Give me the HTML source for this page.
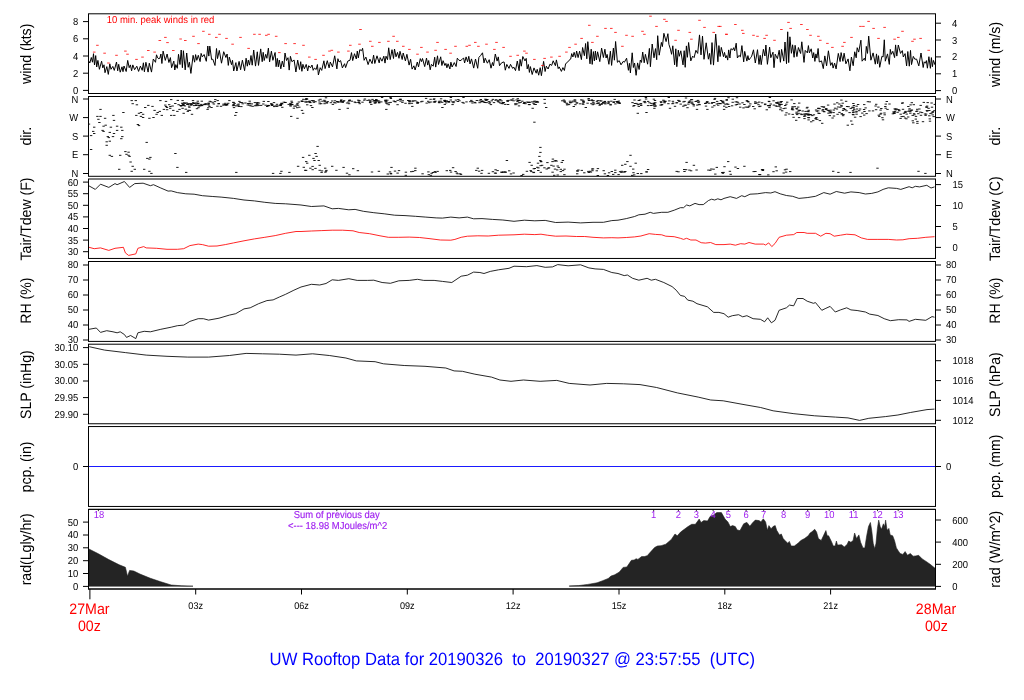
<!DOCTYPE html>
<html lang="en"><head><meta charset="utf-8"><title>UW Rooftop Data</title>
<style>html,body{margin:0;padding:0;background:#fff}body{width:1024px;height:700px;overflow:hidden}svg{display:block}</style>
</head><body>
<svg width="1024" height="700" viewBox="0 0 1024 700" text-rendering="geometricPrecision" font-family='"Liberation Sans", Arial, Helvetica, sans-serif'>
<rect width="1024" height="700" fill="#fff"/>
<defs><clipPath id="c0"><rect x="88.5" y="13.8" width="847.0" height="79.7"/></clipPath><clipPath id="c1"><rect x="88.5" y="96.5" width="847.0" height="79.80000000000001"/></clipPath><clipPath id="c2"><rect x="88.5" y="179.0" width="847.0" height="79.44999999999999"/></clipPath><clipPath id="c3"><rect x="88.5" y="261.5" width="847.0" height="79.89999999999998"/></clipPath><clipPath id="c4"><rect x="88.5" y="344.2" width="847.0" height="79.55000000000001"/></clipPath><clipPath id="c5"><rect x="88.5" y="426.55" width="847.0" height="79.89999999999998"/></clipPath><clipPath id="c6"><rect x="88.5" y="509.35" width="847.0" height="79.64999999999998"/></clipPath></defs>
<path d="M88.8 61.1 L89.8 63 L91.3 57.5 L92.5 62.2 L93.5 53.7 L94.5 65 L95.7 55.6 L96.7 67 L97.9 60.4 L99.4 69.3 L101.6 61.2 L102.8 67.9 L104 64.8 L105 72.7 L106.8 66.6 L108.3 74.4 L109.8 63.8 L111 69.3 L112.8 66.4 L114.3 70.4 L116.5 62 L117.7 70.8 L118.7 64.3 L120.2 72.2 L122 66.8 L123 71.7 L124 66 L126.2 71.5 L127.7 60.4 L129.2 67.7 L130.4 64.9 L131.6 70.8 L132.8 64.9 L134.6 69.7 L136.8 66.2 L138.6 71.4 L140.4 66.1 L142.2 70.3 L143.4 62.8 L144.4 71.8 L145.9 62.3 L148.1 72.1 L149.3 63.2 L151.5 72.1 L153.3 59 L155.5 62.3 L156.5 54.8 L157.7 57.9 L158.9 58.8 L159.9 58.1 L160.9 54 L161.9 63.5 L163.1 51.1 L165.3 60.4 L167.1 54 L168.9 62.5 L170.4 57.6 L171.6 67.7 L173.8 61.1 L174.8 70 L175.8 64.6 L177.3 68.3 L178.5 54.3 L180 64.5 L181.2 50 L182.4 67.7 L183.4 50.7 L185.2 69.9 L186.7 53 L188.2 67.3 L189.4 62.2 L190.9 73.4 L193.1 55.3 L194.6 62.2 L195.6 54.6 L196.8 60.3 L198.3 55.3 L200.1 61.6 L201.1 53.4 L202.3 56.9 L204.1 54.5 L206.3 61.3 L207.8 46 L208.8 56.1 L209.8 46.1 L211.6 59.6 L212.8 59.2 L215 65.5 L216.5 48.5 L217.5 58.6 L219.3 50.4 L221.5 63.2 L223.7 51.7 L225.9 57.5 L227.1 54 L228.3 65.4 L229.3 57.1 L231.5 64.7 L232.5 60.3 L233.7 71 L235.9 62.6 L236.9 71 L239.1 61.4 L240.6 69.8 L242.4 60.2 L244.6 70.7 L246.1 58.2 L247.3 66.2 L248.3 60.1 L249.5 65.1 L251 55.5 L252.2 65.2 L253.7 50 L255.5 66.1 L257.3 51.8 L258.5 65.4 L260.7 48.9 L262.2 61.7 L263.2 52.3 L264.2 60.5 L265.7 54.3 L266.9 58.3 L268.4 48.1 L269.6 61.9 L271.4 51.2 L272.9 60.3 L275.1 52.5 L276.1 66.7 L277.3 58.4 L278.3 66.9 L279.3 60 L280.8 68.8 L282.3 61.1 L283.8 67 L285 53 L286.5 60.5 L288 57.7 L289.2 70.1 L290.4 56.3 L291.9 61.7 L294.1 60 L295.9 72 L297.7 60.1 L299.5 69.5 L300.7 61.7 L301.9 71.3 L302.9 64.3 L304.4 68.8 L306.2 64.4 L307.7 70.9 L308.7 65.7 L310.5 67.8 L312 65 L313.2 70.3 L314.4 68.1 L316.2 69.5 L317.4 64.5 L318.4 75 L320.2 67.7 L321.7 70.4 L323.9 60.8 L325.1 68.6 L327.3 60.7 L329.1 67.9 L330.3 62 L332.5 66.9 L334.7 55.8 L336.9 68.9 L337.9 58.7 L339.1 62 L340.6 60.6 L342.4 67.9 L344.6 63.7 L345.6 67.6 L347.8 61.1 L350 60.2 L351.5 52.6 L352.7 60.6 L354.5 53.7 L356.3 59 L357.3 51.1 L358.3 57.9 L359.8 49.7 L361.6 50.7 L362.6 48.3 L364.1 60.3 L365.9 57.1 L368.1 64.6 L369.9 59.1 L372.1 63.6 L373.6 55.1 L374.8 63.5 L377 55.8 L379.2 62.9 L380.2 57.6 L382 61.2 L383.8 56.2 L385 63.1 L386 56.2 L387.5 59.7 L388.7 47.8 L390.2 59.6 L392 49.7 L393.5 58.5 L394.5 49 L396 56.8 L397.5 52.4 L399 58.3 L400 51.3 L402.2 59.5 L403.2 53 L405.4 60.9 L406.9 54.3 L409.1 65.1 L410.6 59.3 L412.1 69.1 L413.9 65.8 L415.1 70 L417.3 62 L418.5 66.9 L420.3 58.6 L421.5 61.6 L422.5 58.5 L424.7 66.6 L426.5 58 L427.7 65.1 L428.7 60.5 L430.2 69.8 L431.4 64.3 L433.2 66.2 L434.7 57.2 L435.7 67.1 L437.5 55.8 L438.5 64.5 L440.7 56.8 L441.9 65.5 L443.1 60.7 L444.9 65.5 L445.9 63.4 L446.9 67.8 L448.1 63.8 L449.9 69 L450.9 62.2 L452.1 67 L454.3 62.6 L456.1 66.5 L457.3 58.2 L458.5 59.7 L460 60.8 L461.8 59.7 L463.6 57.9 L464.6 63 L466.1 56.9 L467.6 61.8 L468.8 56.3 L470 63.9 L471.5 58.9 L473.7 68.1 L475.5 59 L477.7 68.3 L478.9 57.4 L480.7 55.4 L482.5 52.8 L484 62.9 L485.2 58.2 L487.4 63.2 L489.2 59.7 L491 68.2 L492.5 62.5 L493.5 65.9 L495.3 54 L497.1 61.1 L498.3 56.9 L499.5 65.7 L501.3 63.1 L503.1 62.1 L504.1 62 L505.3 70.2 L506.8 64.4 L509 68.4 L510.5 64.3 L512.7 68.4 L513.7 67 L515.5 70.6 L517.3 61 L519.1 70.7 L520.1 59.4 L521.3 66.2 L522.8 56.5 L525 60.9 L526.2 58.4 L527.2 68.9 L528.4 64.5 L529.4 72.4 L530.4 66.6 L532.2 74.5 L534 67.9 L536.2 73.2 L537.2 69.3 L538.7 75.2 L540.2 67.7 L541.4 75.7 L543.6 61.4 L545.1 71.5 L546.3 66.2 L548.1 69 L549.9 64.2 L551.7 65.4 L553.2 60.8 L555.4 65.7 L556.4 59.9 L558.2 68.6 L559.2 66.9 L561.4 71.4 L562.9 67.6 L564.4 70.5 L565.6 63.7 L567.4 62.4 L568.9 60.4 L570.7 59.1 L571.7 53.6 L572.9 57 L574.1 52.3 L575.6 57.5 L576.6 51 L578.1 57.6 L579.6 51.2 L581.4 59.6 L582.6 47.5 L584.4 55.7 L585.6 43.5 L586.8 58.8 L587.8 41.7 L590 63.8 L591.2 49.2 L592.2 64.4 L593.4 51.6 L594.4 60.9 L595.4 51 L596.4 60 L597.6 51.8 L599.8 61.6 L601.6 48.1 L603.4 57.5 L604.9 49.2 L606.1 58 L607.1 54.4 L608.9 64.3 L610.4 51.2 L611.6 65.4 L613.4 48.1 L614.4 60.2 L615.6 41.5 L617.4 62.3 L619.2 60.6 L621 64.8 L623.2 61.4 L624.4 62.2 L626.6 58.2 L628.4 70.3 L629.4 63.3 L630.4 72.9 L632.2 52.8 L633.4 67.5 L634.6 63 L636.1 75.3 L637.6 62.9 L639.1 69.5 L640.3 60 L641.5 62.4 L642.7 52 L644.2 62.8 L645.4 54.3 L647.6 64.2 L649.4 48.4 L650.4 66.7 L652.2 44 L654 57.8 L655.5 48.6 L656.7 59.7 L657.7 35.7 L659.2 55.2 L661.4 42.4 L662.4 46.6 L663.9 33.3 L666.1 41.6 L667.9 33.7 L668.9 44.3 L670.4 49.1 L671.6 54.3 L672.8 45.8 L674.6 64.8 L675.8 48.8 L676.8 66.7 L678.3 50.2 L679.3 56.3 L680.8 50.8 L683 64.9 L684.2 50.7 L685.2 67.3 L686.4 45.9 L687.4 57.3 L688.6 42.5 L690.8 60.9 L692.6 56.1 L694.1 57.6 L695.9 50.3 L697.7 53.4 L699.5 34.9 L701 54.9 L702.5 36.1 L704 59.3 L706.2 42.8 L708.4 59.2 L709.6 53.4 L710.8 64.4 L712 42.6 L713.5 65.1 L715.7 34.1 L717.9 61.8 L718.9 45.6 L720.1 56.5 L721.3 47.4 L723.5 56.7 L724.5 52.4 L725.7 58 L726.7 55.6 L727.7 60.1 L728.7 49.9 L729.9 58 L730.9 48.7 L732.7 49.9 L733.7 47.7 L734.7 50.9 L736.2 43.2 L737.4 58 L738.9 55.4 L740.4 56.8 L741.9 45.6 L743.7 61.9 L744.7 51.4 L746.9 61.1 L747.9 55.6 L748.9 60 L750.7 57.6 L751.7 56.2 L753.5 49.8 L755.3 63 L757.5 49.7 L759 64.4 L760.2 55.3 L761.2 64.7 L763.4 49.3 L764.9 56 L765.9 45 L767.4 64.3 L769.6 47.1 L770.8 57.7 L773 52.2 L774 67.7 L775.2 54.2 L777.4 58.6 L779.2 50.2 L780.4 62.3 L781.6 49.4 L783.8 61.1 L785 42 L786.5 63.7 L787.7 31.8 L788.7 62.6 L789.9 36.8 L791.4 53.3 L792.6 44.8 L794.1 57.3 L795.1 45.3 L796.9 56.6 L798.4 47.5 L800.6 53.5 L801.8 41.8 L804 62.4 L805.2 50.4 L807.4 52.9 L808.4 45.6 L809.4 52.8 L811.2 48.8 L812.7 58 L813.7 52.6 L814.9 61.4 L815.9 53.9 L816.9 58.1 L818.1 48.5 L819.3 62 L821.5 60.9 L823.3 68.6 L824.8 55.9 L826.6 65.8 L828.4 50.8 L830.6 65.4 L832.1 62.6 L833.1 68.1 L834.6 63.1 L836.1 68.9 L838.3 53.4 L840.1 61.6 L841.1 52.6 L842.9 61.3 L844.1 53.2 L845.9 63.8 L848.1 58.9 L849.9 70.8 L851.4 57 L853.2 65.7 L854.7 51.8 L856.2 57.8 L857.2 47.7 L858.7 52.1 L860.9 40.2 L862.1 61.2 L864.3 58.2 L865.3 60.6 L866.3 46.4 L867.5 53.4 L868.7 36.1 L870.9 60.2 L873.1 52.9 L875.3 64.2 L876.5 53.9 L877.5 63.7 L878.5 55.7 L879.7 67.3 L881.9 56.3 L883.1 57 L884.3 39.8 L885.3 61.2 L887.5 53.9 L889.3 64.4 L890.3 49.4 L891.3 54.3 L892.8 51.3 L894.6 57.6 L895.6 44.9 L896.8 56.1 L898.3 45 L900.5 53.4 L902.3 50.6 L903.3 57 L905.1 53.6 L906.6 66 L907.8 51.5 L909.3 66.2 L910.5 50.4 L911.5 64.6 L913.3 56.4 L914.8 59.2 L916.6 59.1 L918.8 65.9 L921 53 L923.2 67.5 L924.2 61.8 L925.4 63.2 L926.4 60.6 L927.4 68.2 L928.9 56.7 L930.4 68.3 L931.4 57.6 L932.4 66.7 L933.4 60.4 L935.2 65.1" stroke="#000" stroke-width="1" fill="none" stroke-linejoin="miter" stroke-miterlimit="6" clip-path="url(#c0)"/>
<path d="M96.1 45.3h2.6M92.9 52.1h2.6M103.3 53.2h2.6M107.1 63h2.6M115.2 55.3h2.6M124.1 51.1h2.6M126.2 54.2h2.6M135.2 59.4h2.6M141.2 57.1h2.6M147 50.5h2.6M153.3 52.1h2.6M158.5 40.5h2.6M164.1 37.4h2.6M166.2 42.6h2.6M172 50.5h2.6M179.3 39h2.6M184 40.5h2.6M192.2 36.3h2.6M197.2 43.6h2.6M202.1 31.3h2.6M208 34.3h2.6M215 37.4h2.6M218.2 34.3h2.6M225.2 38.4h2.6M231.3 44.2h2.6M239.2 37.4h2.6M247.3 48.4h2.6M253.1 34.3h2.6M258.3 34.3h2.6M265 35.3h2.6M267.3 34.3h2.6M274.9 36.3h2.6M278.1 52.6h2.6M284.3 43.6h2.6M293.3 43.6h2.6M295.3 53.6h2.6M302.2 45.3h2.6M308 57.1h2.6M314.3 59.4h2.6M322.2 55.3h2.6M328.2 51.1h2.6M330.5 50.3h2.6M337.1 52.1h2.6M347.1 51.1h2.6M349 45.3h2.6M358.2 44.2h2.6M359.2 29.5h2.6M369 41.3h2.6M371 46.3h2.6M378.1 42.4h2.6M387.1 41.3h2.6M392.3 36.3h2.6M396 41.3h2.6M402 46.3h2.6M408.1 49.4h2.6M416.2 54.2h2.6M420.1 47.4h2.6M426.2 52.1h2.6M434.3 50.3h2.6M436.2 42.4h2.6M444.3 49.4h2.6M449.3 53.2h2.6M454.2 46.3h2.6M465.5 46.3h2.6M468.2 45.3h2.6M474 42.4h2.6M477.1 46.3h2.6M485.2 44.2h2.6M493.1 49.4h2.6M495.2 42.4h2.6M502.3 47.4h2.6M509.2 56.3h2.6M516.4 55.3h2.6M523.1 51.1h2.6M525.2 53.2h2.6M533.1 59.4h2.6M541.2 65.5h2.6M543.3 58.4h2.6M550.1 57.1h2.6M558.3 56.3h2.6M565.1 52.1h2.6M568.2 47.4h2.6M574.3 44.2h2.6M580.3 38.4h2.6M588 25.3h2.6M591.1 42.4h2.6M596.1 36.3h2.6M604.2 28.4h2.6M610 28.4h2.6M614.2 32.4h2.6M621.1 46.3h2.6M625.2 35.3h2.6M631.3 36.3h2.6M641.2 31.3h2.6M643.1 34.3h2.6M649.2 16.2h2.6M655.2 26.4h2.6M663.1 19.3h2.6M665.2 21.4h2.6M674.3 40.3h2.6M677.2 30.3h2.6M688.5 32.4h2.6M690.1 39.2h2.6M698.2 20.3h2.6M703.2 27.4h2.6M712.4 32.4h2.6M717.4 26.4h2.6M719 26.4h2.6M725.1 34.3h2.6M725.2 34.3h2.6M734.1 24.5h2.6M741 30.3h2.6M742 33.4h2.6M752.2 35.3h2.6M756.2 36.3h2.6M763.3 38.4h2.6M765.3 35.3h2.6M773.2 40.3h2.6M780.1 29.5h2.6M787.2 22.4h2.6M789.3 28.4h2.6M800.1 24.5h2.6M806.1 29.5h2.6M809.2 35.3h2.6M817.1 36.3h2.6M819 40.3h2.6M826.1 43.4h2.6M831.1 47.4h2.6M841.3 46.3h2.6M843.1 42.4h2.6M850.2 37.4h2.6M859.2 26.4h2.6M862.1 26.4h2.6M867.3 21.4h2.6M872.3 28.4h2.6M877.2 38.4h2.6M883.3 27.4h2.6M893.3 39.2h2.6M897 37.4h2.6M901.2 31.3h2.6M911.2 41.3h2.6M913.2 39.2h2.6M919.3 38.4h2.6M927.4 50.3h2.6" stroke="#f00" stroke-width="0.8" fill="none"/>
<text transform="translate(106.7 22.8) scale(0.935 1)" font-size="10.17" fill="#f00">10 min. peak winds in red</text>
<path d="M83.0 90.4H88.5M83.0 73.2H88.5M83.0 56H88.5M83.0 38.8H88.5M83.0 21.6H88.5" stroke="#000" stroke-width="1" fill="none"/>
<text transform="translate(78.2 93.9) scale(0.935 1)" font-size="10.11" text-anchor="end">0</text>
<text transform="translate(78.2 76.7) scale(0.935 1)" font-size="10.11" text-anchor="end">2</text>
<text transform="translate(78.2 59.5) scale(0.935 1)" font-size="10.11" text-anchor="end">4</text>
<text transform="translate(78.2 42.3) scale(0.935 1)" font-size="10.11" text-anchor="end">6</text>
<text transform="translate(78.2 25.1) scale(0.935 1)" font-size="10.11" text-anchor="end">8</text>
<path d="M935.5 90.6h5.5M935.5 73.8h5.5M935.5 56.9h5.5M935.5 40h5.5M935.5 23.2h5.5" stroke="#000" stroke-width="1" fill="none"/>
<text transform="translate(952 94) scale(0.935 1)" font-size="10.11">0</text>
<text transform="translate(952 77.2) scale(0.935 1)" font-size="10.11">1</text>
<text transform="translate(952 60.3) scale(0.935 1)" font-size="10.11">2</text>
<text transform="translate(952 43.5) scale(0.935 1)" font-size="10.11">3</text>
<text transform="translate(952 26.6) scale(0.935 1)" font-size="10.11">4</text>
<text transform="translate(31 53.8) rotate(-90) scale(0.935 1)" font-size="15.09" text-anchor="middle">wind (kts)</text>
<text transform="translate(1000 54.4) rotate(-90) scale(0.935 1)" font-size="15.09" text-anchor="middle">wind (m/s)</text>
<path d="M99.3 109.4h2.4M96.2 116.4h2.4M99.3 116.4h2.4M112.2 115.4h2.4M97.2 119.3h2.4M103.9 118.3h2.4M112.8 120.4h2.4M98.2 122.5h2.4M87.8 124.1h2.4M93 127.2h2.4M102.4 126.2h2.4M104.5 125.2h2.4M109.7 127.2h2.4M115.9 126.2h2.4M120.1 127.2h2.4M92 131.4h2.4M101.4 130.4h2.4M102.4 131.4h2.4M108.6 132.4h2.4M112.8 133.5h2.4M115.9 130.4h2.4M121.1 130.4h2.4M89.9 135.6h2.4M93 133.5h2.4M106.6 136.6h2.4M107.6 137.6h2.4M111.8 136.6h2.4M120.1 138.7h2.4M121.1 136.6h2.4M105.5 141.8h2.4M108.6 141.2h2.4M105.5 145.3h2.4M89.9 149.5h2.4M108.6 155.3h2.4M110.7 156.4h2.4M119 155.3h2.4M124.2 151.6h2.4M127.4 152.2h2.4M125.3 154.3h2.4M127.4 155.3h2.4M128.4 156.4h2.4M129.4 162h2.4M131.5 166.3h2.4M118 169.3h2.4M133.6 169.3h2.4M130.5 171.3h2.4M143 169.3h2.4M148.2 171.3h2.4M150.2 173.4h2.4M145.5 142.4h2.4M136.7 124.5h2.4M137.8 125.6h2.4M122.2 112.5h2.4M130.5 100.6h2.4M134.6 100.6h2.4M131.5 103.7h2.4M135.7 104.8h2.4M146.1 158.4h2.4M149.2 157.4h2.4M148.2 159.1h2.4M174.2 153.5h2.4M176.2 167.4h2.4M185 172.4h2.4M235.1 172.4h2.4M271.9 173.4h2.4M280.2 171.3h2.4M279.2 173.4h2.4M288.2 172.4h2.4M296.9 166.3h2.4M290 116.4h2.4M296.3 118.3h2.4M234.1 115.4h2.4M235.1 112.5h2.4M190.8 114.3h2.4M206.4 109.4h2.4M188.7 110.4h2.4M182.5 113.3h2.4M170 115.4h2.4M173.1 115.4h2.4M160.6 115.4h2.4M155.4 114.3h2.4M152.3 117.5h2.4M148.2 118.3h2.4M141.9 117.5h2.4M139.8 116.4h2.4M135.1 115.4h2.4M137.8 113.3h2.4M139.8 112.5h2.4M141.9 114.3h2.4M144 107.5h2.4M147.1 105.4h2.4M151.3 106.4h2.4M153.4 110.4h2.4M156.5 112.5h2.4M158.6 111.4h2.4M162.7 109.4h2.4M165.8 107.5h2.4M169 108.3h2.4M172.1 110.4h2.4M176.2 111.4h2.4M178.3 109.4h2.4M181.4 108.3h2.4M186.6 111.4h2.4M159.2 100.6h2.4M164.8 101.4h2.4M170 99.6h2.4M181.4 100.6h2.4M191.8 100.6h2.4M214.1 99.6h2.4M228.2 100.6h2.4M238.2 101.4h2.4M311.2 107.5h2.4M338.3 109.4h2.4M346.6 108.3h2.4M385.1 109.4h2.4M411.1 106.4h2.4M441.2 107.5h2.4M300.8 110.4h2.4M301.9 113.3h2.4M316.4 146.4h2.4M314.4 153.5h2.4M308.1 155.3h2.4M315.4 156.4h2.4M301.9 157.4h2.4M312.3 158.4h2.4M305 161.6h2.4M306 163.2h2.4M317.5 160.5h2.4M313.3 160.5h2.4M505.7 160.5h2.4M309.2 168.2h2.4M318.5 165.3h2.4M331 166.3h2.4M342.4 167.4h2.4M390.3 167.4h2.4M414.2 168.2h2.4M476.6 168.2h2.4M304 170.3h2.4M318.5 170.3h2.4M324.8 171.3h2.4M335.2 170.3h2.4M531.5 108.3h2.4M545 107.5h2.4M584.6 107.5h2.4M637.6 106.4h2.4M653.2 108.3h2.4M668.8 108.3h2.4M695.8 109.4h2.4M706.2 109.4h2.4M722.9 109.4h2.4M636.6 113.3h2.4M645.3 112.5h2.4M533.2 122.2h2.4M539.2 147.4h2.4M539.2 152.4h2.4M538.2 156.4h2.4M539.2 160.5h2.4M528.4 162.4h2.4M530.5 165.3h2.4M539.8 161.6h2.4M540.9 165.3h2.4M551.3 161.6h2.4M554.4 160.5h2.4M553.4 161.1h2.4M555.4 161.1h2.4M561.7 160.5h2.4M560.6 162.4h2.4M550.2 165.3h2.4M547.1 168.2h2.4M557.5 167.4h2.4M559.6 169.3h2.4M629.3 155.3h2.4M626.2 161.6h2.4M634.5 163.2h2.4M621 165.3h2.4M624.1 164.3h2.4M629.3 166.3h2.4M685.4 162.4h2.4M692.7 165.3h2.4M715.6 167.4h2.4M832 171.3h2.4M837.2 172.4h2.4M849.3 172.4h2.4M876.3 168.2h2.4M917.3 171.3h2.4M924.2 173.4h2.4M727 161.6h2.4M743.2 166.3h2.4M846.6 125.2h2.4M851.1 124.3h2.4M821 123.3h2.4M916.2 121.4h2.4M916.2 123.3h2.4M184.6 109.2h2.4M169.2 106.5h2.4M190.7 104.1h2.4M180.3 105.5h2.4M195.2 102.9h2.4M164.1 105.1h2.4M187.2 110.3h2.4M171.4 106h2.4M168 104.7h2.4M183.7 105.9h2.4M179.6 105.7h2.4M176.6 100.4h2.4M190 104.7h2.4M190.4 103.8h2.4M174.1 103.5h2.4M187.2 104.3h2.4M195 105.5h2.4M164.9 106.5h2.4M165.9 109.7h2.4M185.4 102.9h2.4M177.4 104.7h2.4M197.3 107.7h2.4M193 103.2h2.4M197 103.2h2.4M189.3 103.7h2.4M295.7 104.8h2.4M192.9 105.6h2.4M275.8 104.3h2.4M236.5 104.9h2.4M211.7 102.8h2.4M270.1 103.9h2.4M254 105.8h2.4M257.6 105.3h2.4M284 102.4h2.4M266.6 105.6h2.4M279.5 104.7h2.4M249.5 105.9h2.4M225.7 104.4h2.4M224.3 104.8h2.4M233.4 103.4h2.4M262.1 104h2.4M197.8 105.8h2.4M290.2 104.8h2.4M213.7 101.6h2.4M195.8 108.7h2.4M196.6 101.2h2.4M296.8 105.2h2.4M272.8 102.6h2.4M239.3 102.5h2.4M237.5 104.1h2.4M225 105.2h2.4M297.7 102h2.4M216.2 106.2h2.4M264.5 105.2h2.4M290.8 104.4h2.4M225.4 104.5h2.4M244.2 103h2.4M186.4 104.2h2.4M227 103.3h2.4M279.6 104.4h2.4M217.6 103.5h2.4M204.5 104.6h2.4M190 105.1h2.4M248.7 103.3h2.4M222.2 105.2h2.4M208.6 101.3h2.4M290.4 101.2h2.4M223.8 104.7h2.4M234.9 105.9h2.4M182.5 105.3h2.4M212.7 104h2.4M203.6 104.1h2.4M284.2 102.5h2.4M204.6 103.7h2.4M290.8 104.5h2.4M232.9 105.4h2.4M250.6 103.9h2.4M280.9 104h2.4M219.8 106.3h2.4M182.1 104.5h2.4M183 102.8h2.4M237.7 106.5h2.4M281.1 107.3h2.4M256.2 102.5h2.4M290.4 104.4h2.4M217.4 103.9h2.4M207 107.8h2.4M240.1 106.6h2.4M200.9 105.6h2.4M207.3 103.3h2.4M266 106.5h2.4M292.7 108.2h2.4M186 104.2h2.4M290 104.5h2.4M210 101.8h2.4M271 104.4h2.4M237.3 105.8h2.4M179.5 105.5h2.4M202.9 104.6h2.4M232.2 102.3h2.4M257.8 103h2.4M226 104.9h2.4M224.2 103.3h2.4M276.5 105.9h2.4M289.4 106.1h2.4M289.2 103.4h2.4M275.5 106.4h2.4M188.2 107.3h2.4M253.7 102.6h2.4M273 106.6h2.4M294.7 106.1h2.4M181.4 103.8h2.4M187.9 106.1h2.4M207.1 104.3h2.4M192.8 103.6h2.4M267.9 105.7h2.4M200.6 101.2h2.4M231.9 105.7h2.4M196.9 103.5h2.4M181.9 105.2h2.4M247.9 103.7h2.4M210.3 107.5h2.4M192 102.7h2.4M197.4 105.1h2.4M240.9 102.6h2.4M290.8 102.4h2.4M246.6 105h2.4M270.1 103.9h2.4M296.3 103.4h2.4M207.7 105.1h2.4M207.6 103.2h2.4M198.4 105.7h2.4M279.5 105.5h2.4M256.2 104.5h2.4M232.3 102.6h2.4M232.4 104.5h2.4M274.3 105.9h2.4M222.4 104.1h2.4M183.7 103.4h2.4M200.7 105.3h2.4M280.8 103.4h2.4M200.1 104.4h2.4M251.5 106.3h2.4M267.2 101.5h2.4M270.9 105h2.4M259.9 105.4h2.4M254.8 105.1h2.4M180 106h2.4M262.6 101.4h2.4M289.7 104.2h2.4M241.5 103.8h2.4M256.1 105.7h2.4M293.2 106.1h2.4M271.1 105.5h2.4M194.9 103.9h2.4M246.9 103.5h2.4M298.1 107.2h2.4M248.4 105.2h2.4M282.6 102.2h2.4M296 107.7h2.4M187.4 103.8h2.4M279.2 105.6h2.4M289.2 105.2h2.4M248.5 101.2h2.4M287.5 104.4h2.4M267.2 105.4h2.4M232.8 107.6h2.4M195.1 105.1h2.4M208.3 106.6h2.4M199.1 105.8h2.4M216.5 100.6h2.4M181.2 103.2h2.4M290.9 104.5h2.4M280.1 103.3h2.4M255.9 103.4h2.4M394.4 101.8h2.4M374.5 102.4h2.4M358 102.1h2.4M398.8 99.4h2.4M323.2 100.3h2.4M325.7 103h2.4M348.2 100.4h2.4M348.2 100.8h2.4M384.3 100.1h2.4M501.8 103.7h2.4M447.6 101.8h2.4M427 101.3h2.4M506.5 101.4h2.4M310.9 100.6h2.4M478.4 102.7h2.4M452.2 102.7h2.4M509.8 100h2.4M368.1 100h2.4M369 102.7h2.4M331 101h2.4M485.2 100.3h2.4M441 102.3h2.4M339.7 101.7h2.4M368.9 102.3h2.4M347.8 103.7h2.4M389.4 97.5h2.4M396.4 104.7h2.4M309.8 105.6h2.4M308.4 101.1h2.4M484.2 99.2h2.4M432.6 99.3h2.4M433.6 101.7h2.4M321.2 101.2h2.4M325.7 102.7h2.4M308.2 101.7h2.4M323.9 101.1h2.4M312.7 102.3h2.4M504.1 104.4h2.4M317.8 100.1h2.4M425.5 103.1h2.4M408.8 100.9h2.4M488.3 103.3h2.4M358.2 100.6h2.4M456.6 101.5h2.4M396.5 100.4h2.4M447.8 101.9h2.4M416.6 103.1h2.4M377.9 102.6h2.4M401.6 100.8h2.4M474.2 102.9h2.4M340 101.9h2.4M416.1 103.1h2.4M496.7 101.3h2.4M334.4 102.9h2.4M369.1 101.2h2.4M357.3 102.4h2.4M311.9 100.9h2.4M304.4 99.7h2.4M373.9 101h2.4M439.9 98.8h2.4M375.2 101.3h2.4M462.3 97.5h2.4M444.1 101h2.4M498.7 99.7h2.4M329.7 102.7h2.4M342.9 100.7h2.4M478.5 100.8h2.4M320 103.7h2.4M511.9 98.9h2.4M357 100.2h2.4M449.6 100h2.4M387.8 102.8h2.4M416.9 102.5h2.4M324.8 97.8h2.4M331.7 104.4h2.4M480.8 101.2h2.4M323.4 103.7h2.4M481.2 101.2h2.4M374.9 100.4h2.4M375 99.6h2.4M437.9 101.3h2.4M301.2 101.5h2.4M380.9 97.5h2.4M363.7 99h2.4M392.6 101h2.4M380.1 101.9h2.4M370.1 104.4h2.4M506.2 100.7h2.4M369.2 100.9h2.4M506.9 104.5h2.4M305.2 99.2h2.4M354.4 102.6h2.4M414.1 100.8h2.4M366.3 100.4h2.4M475.7 100.5h2.4M454.7 100.1h2.4M308.5 102.3h2.4M443.8 101.4h2.4M314.3 101.7h2.4M348.6 100.1h2.4M437.9 102.6h2.4M497.6 102.1h2.4M389.5 102.4h2.4M385.3 101.9h2.4M424.9 98.4h2.4M447.1 101.6h2.4M377.1 100.9h2.4M377.9 102.8h2.4M337.2 102.2h2.4M439.5 101.2h2.4M499 102.9h2.4M408.2 103.7h2.4M411.4 101.2h2.4M473.6 102.4h2.4M387.6 104.7h2.4M312.6 100.9h2.4M421.2 101.3h2.4M434.3 101.2h2.4M302.1 99.3h2.4M300.4 101.1h2.4M495.1 99.8h2.4M384.5 101.8h2.4M306.1 101.8h2.4M337.1 101.8h2.4M485.4 99.7h2.4M490.6 100.8h2.4M342.1 101.5h2.4M428 102.7h2.4M408.3 103h2.4M306 104.8h2.4M404.3 103.3h2.4M399.4 99.2h2.4M438.3 102.7h2.4M445.6 100.9h2.4M350.6 101.2h2.4M358.5 103.7h2.4M482.8 102h2.4M501.7 102.5h2.4M432.7 102h2.4M304 101.9h2.4M462.5 103.1h2.4M309.2 102.6h2.4M347.3 102h2.4M333.8 100.8h2.4M301.1 101.1h2.4M484.5 100.1h2.4M353.5 102h2.4M488.7 102.2h2.4M444.1 101.5h2.4M443.6 100.3h2.4M384.7 100.8h2.4M451.4 104.6h2.4M318.4 102h2.4M336 101.5h2.4M487.7 101.7h2.4M384.2 100.7h2.4M485.4 102.6h2.4M371.3 99.4h2.4M389.7 98.5h2.4M494.3 100.2h2.4M399.3 101.1h2.4M373.2 100.5h2.4M305.2 102.1h2.4M471.2 101.6h2.4M341.6 102.4h2.4M415.9 102h2.4M399.3 99.7h2.4M469.1 101.7h2.4M345.9 103h2.4M386.1 100.2h2.4M363.1 100.2h2.4M401.2 102.4h2.4M443.6 104.4h2.4M500.5 103.6h2.4M393.6 101.6h2.4M510.7 100.1h2.4M408.5 101.3h2.4M326.5 101.6h2.4M319.3 99.3h2.4M481.2 101.4h2.4M305.9 99.1h2.4M452.8 101.8h2.4M451.2 101.8h2.4M447.8 101.8h2.4M339.9 100.5h2.4M489.7 104.6h2.4M471.3 103h2.4M461.4 102.4h2.4M318.5 103.8h2.4M361.3 102.2h2.4M375.6 100.2h2.4M479.6 99.5h2.4M433.7 102.1h2.4M483.6 102.5h2.4M377.9 101.2h2.4M470.1 100.4h2.4M305.2 98.6h2.4M449.7 97.5h2.4M385.1 103.1h2.4M492.8 102.6h2.4M357.5 102.3h2.4M429.5 102h2.4M386 103.8h2.4M429.4 99.3h2.4M333.1 102.7h2.4M457.1 99.6h2.4M500.4 100.9h2.4M420 101.8h2.4M410.7 103.3h2.4M497 100.7h2.4M499.1 99.9h2.4M323.6 101.8h2.4M491.7 99.4h2.4M486.2 99.6h2.4M507.3 100.4h2.4M444.9 102.9h2.4M465.3 101.9h2.4M373.4 102.9h2.4M458.3 100.8h2.4M512.4 100.8h2.4M412.1 100.9h2.4M374.1 103.1h2.4M372.3 101.1h2.4M407 100.5h2.4M433.1 98.9h2.4M408.1 101.1h2.4M443.2 100.7h2.4M480.1 101.9h2.4M340.1 99.9h2.4M502.6 102.5h2.4M518.4 100.4h2.4M518 102.8h2.4M521.1 101.2h2.4M543.6 103.3h2.4M515.8 103.9h2.4M533.2 104.3h2.4M528.4 104.6h2.4M528.2 102.4h2.4M534.9 102.3h2.4M517.1 100.7h2.4M517.1 100.3h2.4M535.4 101.4h2.4M532.9 101.8h2.4M516.6 98.7h2.4M534.5 104.5h2.4M517.8 105.9h2.4M525.8 102.1h2.4M519.4 102.4h2.4M528.4 102.2h2.4M514.2 103.7h2.4M516.3 101.6h2.4M522.7 103.5h2.4M527 102.3h2.4M531 101.9h2.4M514.3 104.7h2.4M527.8 104.6h2.4M536.7 102.2h2.4M523.4 102.4h2.4M533.4 101.1h2.4M543.4 99.4h2.4M523.1 102.7h2.4M524.3 103.7h2.4M532.4 103.3h2.4M536.2 101.7h2.4M515.3 100h2.4M604.2 103.9h2.4M569.2 102.6h2.4M582.1 104.2h2.4M612.7 101.8h2.4M600.4 104.3h2.4M578.8 103.8h2.4M596.6 100.6h2.4M581.5 103.9h2.4M574.2 104.7h2.4M609.4 105h2.4M575.5 103h2.4M607.4 102.6h2.4M614.2 103.9h2.4M563.7 102.3h2.4M573.4 100h2.4M618.5 103.5h2.4M595.8 101.7h2.4M574 101.7h2.4M568.8 101.2h2.4M617.6 101.1h2.4M610.1 101.2h2.4M582.4 102.4h2.4M562.7 100h2.4M590.5 100.4h2.4M569.1 102.8h2.4M602 102.5h2.4M612.5 102.5h2.4M616.2 102.4h2.4M571 102.1h2.4M561 100.8h2.4M607.4 101.4h2.4M588 100.5h2.4M592.3 100.6h2.4M591.8 102.1h2.4M597.1 103.2h2.4M596.1 103.6h2.4M565.5 103.2h2.4M580 99.9h2.4M599 100.8h2.4M582.2 101.6h2.4M598.9 104.4h2.4M591.6 104.7h2.4M597.6 103h2.4M603.7 101.4h2.4M600.9 103.6h2.4M593 104h2.4M615.5 101.5h2.4M586.4 103.2h2.4M575.9 102.9h2.4M572.6 106.5h2.4M604.3 102.8h2.4M598.5 105.3h2.4M571.7 101.1h2.4M574 100.1h2.4M587.4 99.9h2.4M603.5 101.7h2.4M613.5 99.4h2.4M600.2 101h2.4M607.2 103.6h2.4M590.2 103.7h2.4M609.4 104.4h2.4M616.5 101.6h2.4M590.7 99.9h2.4M592.4 102.9h2.4M616.9 103h2.4M566.2 104h2.4M582.5 101.1h2.4M563.5 101.2h2.4M563.2 101.1h2.4M587.5 98.5h2.4M567.8 104.6h2.4M565.9 104.9h2.4M618.1 102.5h2.4M603 103.1h2.4M581.4 100.2h2.4M704.8 106.1h2.4M698.5 104.7h2.4M652.8 103.1h2.4M678 101h2.4M675.8 102.7h2.4M705.9 101.8h2.4M660.9 104.6h2.4M686.3 107.7h2.4M653.1 104h2.4M663.4 102.8h2.4M721.8 102.6h2.4M671.3 103.7h2.4M637.6 100.5h2.4M654.6 106h2.4M711.2 107.1h2.4M692.4 104.5h2.4M653.8 100.5h2.4M722.5 103.1h2.4M671.7 101.3h2.4M633.1 105.5h2.4M675.3 102.9h2.4M633.7 103.5h2.4M687.9 102.3h2.4M690.1 99.6h2.4M719.8 100.5h2.4M694.5 101.5h2.4M718.9 103.5h2.4M678.4 101.3h2.4M659.4 105.1h2.4M642.8 101.9h2.4M706.2 101.9h2.4M697.7 101.8h2.4M717 105.2h2.4M659.7 101.7h2.4M651.6 105.2h2.4M653.7 105.1h2.4M688.8 100.9h2.4M697.7 104.3h2.4M636.6 104.7h2.4M722 101.2h2.4M684.6 105.2h2.4M643.6 101.4h2.4M713.8 98.4h2.4M639.6 103.7h2.4M683.4 105.2h2.4M639.9 104h2.4M652.7 99.2h2.4M704.1 103.5h2.4M719.4 103.7h2.4M662.2 100.2h2.4M653.4 106.3h2.4M711.1 102.6h2.4M695.6 101.1h2.4M692.6 105.9h2.4M677.1 100.4h2.4M713.1 105.7h2.4M644.7 97.5h2.4M649.7 105.5h2.4M668.1 100.9h2.4M667.2 103.7h2.4M684.8 98h2.4M644 102.7h2.4M683.4 101.4h2.4M691.4 103.8h2.4M648.3 102.8h2.4M715.9 101.4h2.4M663.3 102h2.4M673.8 106.3h2.4M697.2 102.4h2.4M715.6 104h2.4M646.9 101.4h2.4M713.4 99.4h2.4M688.4 101.9h2.4M652.6 103.7h2.4M672 103.1h2.4M712.9 102.5h2.4M640 105.5h2.4M653 104.1h2.4M635.3 103.4h2.4M637.6 104.2h2.4M696.9 100.4h2.4M631.3 102.6h2.4M632.2 106.1h2.4M660.5 104.9h2.4M710.6 103.3h2.4M633.3 100h2.4M704.4 103.3h2.4M646.9 105.6h2.4M638.8 100h2.4M687.2 104.1h2.4M667.6 97.5h2.4M717.3 103.4h2.4M660 102.6h2.4M691 102.1h2.4M696.1 105.1h2.4M707.6 103.2h2.4M650.2 103.4h2.4M679.5 104.1h2.4M664.1 101.3h2.4M662.5 101.1h2.4M644.9 99h2.4M721.1 101.6h2.4M687.7 102.3h2.4M705.6 102.4h2.4M690.4 103.1h2.4M690.8 99.7h2.4M682.3 101.9h2.4M664 101.3h2.4M654.1 102.7h2.4M682.1 106.2h2.4M779.5 107.9h2.4M731.5 102.3h2.4M779.6 102.2h2.4M777.1 103.3h2.4M754.3 103.3h2.4M734.7 104.9h2.4M758 102.1h2.4M765.6 109.8h2.4M772.4 100.8h2.4M768 101.6h2.4M764 104h2.4M748.4 105.9h2.4M775.7 102.8h2.4M775.1 102.8h2.4M768.6 105.9h2.4M724.3 104.2h2.4M769.6 104h2.4M775.8 103.1h2.4M736 101.9h2.4M744.6 107.1h2.4M760.9 102.8h2.4M772.7 105.1h2.4M763.9 104.6h2.4M736.8 102.8h2.4M747.5 106.8h2.4M739 107.2h2.4M779.7 101.9h2.4M768.7 97.5h2.4M767.4 105.6h2.4M778.1 106.3h2.4M727.9 106.5h2.4M723 106.2h2.4M741.3 102.8h2.4M758.2 106.6h2.4M725.8 103.9h2.4M768.2 107.6h2.4M725.5 100.3h2.4M767.7 101.3h2.4M730.9 105.8h2.4M777.1 102.2h2.4M731.6 99.2h2.4M775.7 106.3h2.4M752 106.5h2.4M743.2 104.5h2.4M745.8 100.9h2.4M746.8 101.5h2.4M745.8 100.8h2.4M742.3 107.9h2.4M734.5 101.9h2.4M759.2 106.2h2.4M757.3 104.7h2.4M756.1 102.9h2.4M725.6 99.6h2.4M774.7 105.9h2.4M778.3 105.1h2.4M779.1 104.3h2.4M735.8 104.5h2.4M754.1 101.8h2.4M780.4 101.5h2.4M753.5 108.8h2.4M727.3 97.7h2.4M779.1 109.7h2.4M735.8 97.7h2.4M727 104.3h2.4M738.4 104h2.4M778.8 104.8h2.4M768.6 105.4h2.4M778 104.2h2.4M725.2 107.3h2.4M749.1 103.9h2.4M746.6 107.3h2.4M780.4 104.4h2.4M747.3 102h2.4M754.1 103.1h2.4M766.9 105.7h2.4M816.1 119.3h2.4M806.2 107.3h2.4M790.4 99.9h2.4M808.5 114.9h2.4M810 121.8h2.4M807.3 114.3h2.4M784.3 108.2h2.4M809.5 114.5h2.4M797 107.1h2.4M798.5 110.5h2.4M807.5 110.3h2.4M799.7 114h2.4M806.7 111.3h2.4M802.6 114.1h2.4M796 114.6h2.4M815.6 111.2h2.4M795 120.3h2.4M791.5 114.4h2.4M807.2 115.2h2.4M812.7 114.8h2.4M807.4 119.9h2.4M791.3 107.9h2.4M814.4 118.4h2.4M804.4 111.4h2.4M803.6 115h2.4M811.1 115.6h2.4M795.4 112.2h2.4M795.4 113.7h2.4M807.7 117.7h2.4M787.9 114h2.4M818.7 120.6h2.4M817.2 113.1h2.4M793.7 106.7h2.4M797.9 117.6h2.4M797.2 111.1h2.4M795.4 108.4h2.4M807.3 111.7h2.4M807.3 114.2h2.4M791.8 109.8h2.4M785.3 112.8h2.4M806.2 114.1h2.4M801.5 111h2.4M781 110.8h2.4M807.2 117.6h2.4M805.7 108h2.4M790.9 109.6h2.4M803 116.3h2.4M804.4 113.9h2.4M793.1 103.6h2.4M791 108.4h2.4M791.4 106.7h2.4M800.5 114.6h2.4M784.4 115h2.4M792.4 117.3h2.4M812 120.7h2.4M795.8 109.1h2.4M782.5 108.6h2.4M798 103.1h2.4M805.1 114h2.4M814.8 119.1h2.4M786 102.2h2.4M814.9 110h2.4M804 116h2.4M815.2 117.5h2.4M784 105.5h2.4M797.4 113.3h2.4M818.2 113.5h2.4M785.1 104.2h2.4M803.3 118.6h2.4M798.2 110.2h2.4M933.2 110.7h2.4M863.3 111.5h2.4M832.6 110h2.4M844 109.4h2.4M840.2 100.1h2.4M851.2 107.3h2.4M855.4 106.2h2.4M827.3 113.2h2.4M916 109.3h2.4M874.9 109.7h2.4M916 111.1h2.4M913.2 114.8h2.4M840.2 105.4h2.4M881.2 117.7h2.4M904.3 111.4h2.4M864.4 107.9h2.4M822.7 107.2h2.4M839.1 107.2h2.4M931.7 112.2h2.4M877.6 115.2h2.4M826.9 105.1h2.4M851.8 114.4h2.4M863 115.1h2.4M852.7 105.5h2.4M845.9 106.5h2.4M879.9 113.3h2.4M852.5 112.1h2.4M893.1 112.3h2.4M925.9 106.1h2.4M833.3 104.1h2.4M925.7 107.3h2.4M899.5 114.2h2.4M894.5 109.9h2.4M824.7 109.4h2.4M928.1 110.5h2.4M842.5 108.9h2.4M868.2 110.9h2.4M930.7 112.9h2.4M888.3 104h2.4M840.7 114h2.4M840.6 113.8h2.4M831.4 118h2.4M832.8 116h2.4M875 104.3h2.4M818.5 108.7h2.4M836 102.8h2.4M842.6 108.6h2.4M910.6 102.7h2.4M879.3 114.2h2.4M900.5 116.6h2.4M877.2 107.1h2.4M827.5 110.6h2.4M822.7 111.4h2.4M899.4 118.4h2.4M868.6 101.9h2.4M924.9 114.1h2.4M832.4 112.6h2.4M905.5 114.1h2.4M919.1 112.1h2.4M901 103.3h2.4M853 109.7h2.4M841.9 115.7h2.4M927.4 108.3h2.4M930.8 107.2h2.4M855.1 112.1h2.4M893.4 113.1h2.4M898 110.8h2.4M838.3 112.4h2.4M855.8 109h2.4M858 110.7h2.4M893.7 111.6h2.4M878.1 116.4h2.4M825.3 109.1h2.4M908.2 110.1h2.4M920.9 112.6h2.4M849.6 108.4h2.4M852.2 103.5h2.4M840.4 106.2h2.4M871.8 110.9h2.4M922.6 102.4h2.4M884.5 108.2h2.4M828.6 115.6h2.4M817 110.9h2.4M851.9 112.4h2.4M836.9 107h2.4M855.4 114.2h2.4M859.4 116.6h2.4M911.5 115.4h2.4M901.5 102.8h2.4M830 112.1h2.4M835.7 109h2.4M821.4 110.8h2.4M884.6 104.1h2.4M865.4 113.6h2.4M914.8 116.4h2.4M902.7 113.3h2.4M858.9 109h2.4M817.4 108.3h2.4M892.2 112h2.4M847.4 106.7h2.4M829.3 110.2h2.4M848.4 112.6h2.4M880.1 108.5h2.4M883.3 113h2.4M821.7 109.6h2.4M850 121h2.4M881.8 119.8h2.4M901.8 109.3h2.4M879.4 110.1h2.4M829.2 112h2.4M823.1 111.8h2.4M841.5 103.2h2.4M903.8 112.4h2.4M915.2 111.4h2.4M933.6 104.4h2.4M829.6 112.9h2.4M883.5 114.8h2.4M842.3 114.6h2.4M845.3 110.8h2.4M912.6 104.7h2.4M912.9 113.7h2.4M828.3 111.8h2.4M841.9 110.4h2.4M852.3 107.2h2.4M826.6 110.3h2.4M838.2 104h2.4M853.9 117.2h2.4M820.6 106.7h2.4M909.1 113.2h2.4M836.4 114.3h2.4M910.1 110.4h2.4M925 107h2.4M897.1 109.6h2.4M817.1 108.4h2.4M919.8 115.3h2.4M855.4 111.3h2.4M824.9 108.7h2.4M918.2 109h2.4M822.7 106.9h2.4M893 113.5h2.4M930.4 103h2.4M874.4 106h2.4M907.1 106.5h2.4M898 110.1h2.4M852.2 114.8h2.4M909.1 111.6h2.4M896.4 112.3h2.4M891.7 113.8h2.4M926.5 102.6h2.4M886.3 109.4h2.4M893.5 108.9h2.4M908.4 108.8h2.4M910.7 110h2.4M844.9 101.3h2.4M885.6 101.5h2.4M884.1 106.5h2.4M926 111.1h2.4M894.4 109.1h2.4M863 104.6h2.4M856.9 104.5h2.4M861.1 113.1h2.4M895.4 109h2.4M909.4 104.9h2.4M866.7 101.7h2.4M852.5 108.1h2.4M928.1 115.8h2.4M919.5 105.4h2.4M851.8 110.7h2.4M833.9 108.2h2.4M862.9 109.5h2.4M914.6 119.1h2.4M932.5 116.6h2.4M905.2 118.8h2.4M917.1 113.7h2.4M907 117h2.4M911.6 120.8h2.4M929.3 113.6h2.4M903.9 118h2.4M904.5 112.2h2.4M928.8 121.2h2.4M931.5 114.9h2.4M928.6 118.9h2.4M925.7 110.6h2.4M931.7 111.7h2.4M912.1 122.8h2.4M902.3 116.4h2.4M907.2 111.3h2.4M923.8 114h2.4M921.8 121.7h2.4M924.4 115.4h2.4M456.4 173.8h2.4M386.6 174h2.4M414.1 170.6h2.4M388.8 171.9h2.4M393.8 171.1h2.4M459.8 174.4h2.4M502.3 172.2h2.4M454.4 171.5h2.4M427.2 171.9h2.4M491.7 171.7h2.4M493.9 173.1h2.4M396.4 173.1h2.4M430.4 173.3h2.4M421.4 173.8h2.4M504.1 171.8h2.4M502.1 172h2.4M389.7 173.4h2.4M429.7 175.3h2.4M512.4 173h2.4M509.8 173.9h2.4M449.8 172.1h2.4M348.2 174.8h2.4M436.4 171.4h2.4M504.4 172.4h2.4M451.9 167.7h2.4M404.7 172.2h2.4M496.4 170.6h2.4M427.6 174.7h2.4M352 168.7h2.4M377.7 171.3h2.4M480.3 173.3h2.4M431.8 172.5h2.4M459 173.8h2.4M508 170.8h2.4M475.1 170.4h2.4M389.8 173.9h2.4M494.4 169.8h2.4M500.6 172.4h2.4M411.9 171.4h2.4M397.8 170.6h2.4M477.9 171.2h2.4M500.3 172.1h2.4M449 170.4h2.4M370.8 172h2.4M494.6 173.2h2.4M434.3 172.4h2.4M455.6 173h2.4M356.7 170.7h2.4M410 171.7h2.4M480.9 170.4h2.4M487.7 173.3h2.4M345.8 173.2h2.4M433.7 171.6h2.4M445.6 170.7h2.4M404.6 175.3h2.4M325.2 170.4h2.4M302.6 167.3h2.4M324 168.2h2.4M320.4 172.4h2.4M304.9 170.4h2.4M320.8 170.9h2.4M311.5 169.7h2.4M324.2 172.2h2.4M311.4 166.4h2.4M314.3 168.4h2.4M553 175.3h2.4M525.7 171.3h2.4M563.3 169.2h2.4M532.7 172.3h2.4M563.2 174.7h2.4M522 174.4h2.4M530.1 171.6h2.4M539.6 172.3h2.4M556.5 175h2.4M551.4 172.2h2.4M529.5 170.6h2.4M559.6 171.6h2.4M532.4 172.6h2.4M520.4 175.5h2.4M537.1 170.5h2.4M532.6 168.8h2.4M537.2 167.9h2.4M561.8 170.6h2.4M547.8 167.8h2.4M543.2 167.8h2.4M533.6 168.5h2.4M536.1 167.3h2.4M580.6 170.4h2.4M576.5 171.1h2.4M645.4 171.9h2.4M591 169h2.4M607.9 172.8h2.4M612 174.4h2.4M618.9 171.7h2.4M577.2 170h2.4M610.6 171.5h2.4M596.6 175.5h2.4M614.1 170.2h2.4M591.8 168.9h2.4M595.6 170.8h2.4M646.9 169.5h2.4M591.3 170.7h2.4M587.6 172.5h2.4M602.5 170.7h2.4M645.4 171.9h2.4M583.1 172.8h2.4M603.7 173.8h2.4M624.1 171.5h2.4M640.1 173.6h2.4M614.1 172.6h2.4M623.5 172h2.4M617.4 174.6h2.4M606.7 175.5h2.4M620.5 171.3h2.4M588.9 171.3h2.4M587.1 171.4h2.4M631 175.4h2.4M576 173.8h2.4M632.3 172.7h2.4M632 169.1h2.4M589.7 172.1h2.4M596.7 168.6h2.4M633 174.9h2.4M620.2 172.4h2.4M576 170.9h2.4M636.6 173.5h2.4M622.3 172h2.4M688.2 170.1h2.4M689.9 170.8h2.4M683.3 171.5h2.4M677.3 171.8h2.4M684.9 169.7h2.4M675.5 171.4h2.4M683 169.5h2.4M695.4 170h2.4M714.1 174.1h2.4M707.2 170.1h2.4M721.1 172.5h2.4M722.4 172.4h2.4M710.1 169h2.4M712.4 169.2h2.4M721.7 173.3h2.4M709.1 170.3h2.4M758.1 174.6h2.4M775.5 170.8h2.4M783.8 169.8h2.4M752.5 171.6h2.4M772.3 171.7h2.4M758.9 174.6h2.4M789 171.6h2.4M728.7 171.3h2.4M761.8 169.7h2.4M784.9 172.1h2.4M760.9 169.6h2.4M754.2 171.5h2.4M723.3 166.7h2.4M736.7 168.5h2.4M729.5 174.3h2.4M782.5 173h2.4M761.7 170.3h2.4M785.4 169.2h2.4M774.6 166.9h2.4M761.6 170.2h2.4M734.3 167.1h2.4M767.1 174.9h2.4M551.7 159.1h2.4M545.5 169h2.4M536.8 163.2h2.4M546.2 162.6h2.4M553.8 169.1h2.4M556 169.9h2.4M552.4 166.1h2.4M539.4 165.7h2.4M539.9 161.7h2.4M556.5 166h2.4" stroke="#000" stroke-width="0.9" fill="none" clip-path="url(#c1)"/>
<path d="M83.0 99H88.5M83.0 117.6H88.5M83.0 136.1H88.5M83.0 154.7H88.5M83.0 173.5H88.5" stroke="#000" stroke-width="1" fill="none"/>
<text transform="translate(78.2 102.5) scale(0.935 1)" font-size="10.11" text-anchor="end">N</text>
<text transform="translate(78.2 121) scale(0.935 1)" font-size="10.11" text-anchor="end">W</text>
<text transform="translate(78.2 139.5) scale(0.935 1)" font-size="10.11" text-anchor="end">S</text>
<text transform="translate(78.2 158.1) scale(0.935 1)" font-size="10.11" text-anchor="end">E</text>
<text transform="translate(78.2 176.9) scale(0.935 1)" font-size="10.11" text-anchor="end">N</text>
<path d="M935.5 99h5.5M935.5 117.6h5.5M935.5 136.1h5.5M935.5 154.7h5.5M935.5 173.5h5.5" stroke="#000" stroke-width="1" fill="none"/>
<text transform="translate(946 102.5) scale(0.935 1)" font-size="10.11">N</text>
<text transform="translate(946 121) scale(0.935 1)" font-size="10.11">W</text>
<text transform="translate(946 139.5) scale(0.935 1)" font-size="10.11">S</text>
<text transform="translate(946 158.1) scale(0.935 1)" font-size="10.11">E</text>
<text transform="translate(946 176.9) scale(0.935 1)" font-size="10.11">N</text>
<text transform="translate(31 136.2) rotate(-90) scale(0.935 1)" font-size="15.09" text-anchor="middle">dir.</text>
<text transform="translate(1000 136.2) rotate(-90) scale(0.935 1)" font-size="15.09" text-anchor="middle">dir.</text>
<path d="M89 185.9 L95.3 189.4 L100.5 184.2 L108.8 187.4 L115 183.6 L117.1 184.7 L124.4 181.5 L129.6 187.4 L134.8 183.6 L143.1 183.2 L150.4 185.7 L153.5 184.7 L160.8 188 L168.1 191.1 L171.2 190.9 L177.4 192.6 L185.8 193.8 L194.1 194.2 L202.4 195.7 L212.8 196.5 L221.1 197.1 L233.6 198.4 L244 200 L254.4 200.9 L264.8 202.3 L275.2 203.4 L285.6 203.8 L296 204.6 L301 205 L311.4 206.5 L323.9 205.9 L332.2 208.8 L338.4 208.4 L348.8 209.8 L355.1 209.4 L363.4 211.3 L373.8 212.7 L384.2 213.8 L394.6 215.2 L405 215.6 L415.4 216.3 L425.8 217.1 L436.2 217.9 L442.4 218.1 L450.8 217.1 L459.1 217.9 L467.4 217.1 L473.6 218.8 L482 218.6 L492.4 219.4 L502.8 220 L514 221.3 L524.4 220.2 L534.8 220.8 L545.2 220.4 L555.6 222.5 L568.1 222.1 L580.6 222.9 L593 222.3 L603.4 222.3 L611.8 220.6 L618 220.2 L626.3 218.6 L634.6 216.5 L638.8 214.8 L645 214.2 L650.2 212.3 L653.4 213.4 L661.7 212.3 L667.9 212.3 L674.2 210.2 L680.4 207.7 L683.5 207.7 L686.6 205 L689.8 205.9 L695 203.4 L699.1 204.6 L703.3 204.6 L708.5 200.5 L711.6 199.2 L714.7 200 L717.8 198.8 L721 199.8 L724 198.4 L730.2 196.7 L736.5 198.4 L741.7 195.7 L744.8 196.7 L750 194.2 L757.3 193.8 L765.6 192.6 L770.8 193 L775 191.7 L780.2 193.8 L786.4 195.5 L792.6 196.3 L798.9 198.4 L807.2 197.6 L815.5 196.3 L823.8 192.6 L830.1 194.2 L836.3 191.5 L844.6 193.2 L850.9 191.9 L859.2 192.6 L865.4 194 L871.7 193.4 L877.9 191.9 L883.1 189.4 L888.3 187.8 L896.6 188.4 L900.8 189.4 L909.1 186.7 L912.2 187.8 L915.4 186.3 L919.5 186.9 L926.8 185.3 L931 188 L934.5 186.9" stroke="#000" stroke-width="0.85" fill="none" stroke-linejoin="round" clip-path="url(#c2)"/>
<path d="M89 247.3 L94.2 248.7 L100.5 247.9 L108.8 250.4 L115 248.3 L123.4 247.3 L125.4 252.9 L128.6 255.4 L135.8 253.9 L137.9 248.3 L143.7 246.6 L146.2 247.9 L156.6 248.3 L167 249.3 L177.4 249.3 L183.7 248.7 L189.9 245.6 L198.2 244.1 L202.4 244.6 L208.6 246.2 L217 246 L225.3 244.6 L233.6 242.9 L244 240.8 L254.4 238.9 L264.8 237.3 L275.2 235.6 L285.6 233.3 L296 231.5 L301 231.5 L311.4 231 L321.8 230.6 L332.2 230.2 L342.6 230.2 L353 230.8 L359.2 232.5 L369.6 233.7 L380 235.8 L388.4 237.3 L398.8 237.3 L409.2 237.1 L419.6 237.5 L430 238.7 L440.4 240 L450.8 240.2 L454.9 239.4 L461.2 237.3 L467.4 236.2 L477.8 235.8 L488.2 236 L498.6 235.2 L514 234.8 L524.4 234.2 L534.8 234.6 L541 234.2 L547.3 235.2 L555.6 236.2 L566 236 L576.4 236.5 L584.7 236.5 L593 237.3 L603.4 237.9 L611.8 237.7 L618 237.9 L626.3 237.5 L634.6 236.9 L640.9 236 L649.2 233.7 L655.4 234.4 L661.7 234.8 L665.8 236.2 L674.2 236.7 L680.4 238.3 L683.5 239.4 L686.6 238.3 L690.8 240 L696 240 L701.2 242.7 L705.4 243.1 L710.6 242.5 L715.8 244.6 L722 244.6 L724 244.6 L730.2 244.1 L735.4 245.2 L740.6 243.7 L744.8 244.1 L749 242.5 L755.2 244.1 L763.5 244.1 L765.6 245 L768.7 242.9 L771.8 246.6 L775 243.5 L779.1 237.3 L786.4 235.2 L793.7 234.6 L796.8 232.5 L804.1 232.5 L807.2 233.3 L815.5 233.3 L820.7 236.2 L825.9 233.3 L830.1 233.7 L834.2 236.2 L840.5 235.2 L846.7 234.2 L855 234.8 L861.3 237.9 L867.5 239.4 L877.9 239.4 L888.3 239.4 L896.6 240 L902.9 239.8 L909.1 238.7 L917.4 238.3 L925.8 237.3 L934.5 236.7" stroke="#f00" stroke-width="0.85" fill="none" stroke-linejoin="round" clip-path="url(#c2)"/>
<path d="M83.0 251.7H88.5M83.0 240.1H88.5M83.0 228.5H88.5M83.0 216.9H88.5M83.0 205.3H88.5M83.0 193.7H88.5M83.0 182.1H88.5" stroke="#000" stroke-width="1" fill="none"/>
<text transform="translate(78.2 255.1) scale(0.935 1)" font-size="10.11" text-anchor="end">30</text>
<text transform="translate(78.2 243.5) scale(0.935 1)" font-size="10.11" text-anchor="end">35</text>
<text transform="translate(78.2 231.9) scale(0.935 1)" font-size="10.11" text-anchor="end">40</text>
<text transform="translate(78.2 220.3) scale(0.935 1)" font-size="10.11" text-anchor="end">45</text>
<text transform="translate(78.2 208.7) scale(0.935 1)" font-size="10.11" text-anchor="end">50</text>
<text transform="translate(78.2 197.1) scale(0.935 1)" font-size="10.11" text-anchor="end">55</text>
<text transform="translate(78.2 185.5) scale(0.935 1)" font-size="10.11" text-anchor="end">60</text>
<path d="M935.5 247.4h5.5M935.5 226.5h5.5M935.5 205.5h5.5M935.5 184.6h5.5" stroke="#000" stroke-width="1" fill="none"/>
<text transform="translate(952.6 250.8) scale(0.935 1)" font-size="10.11">0</text>
<text transform="translate(952.6 229.9) scale(0.935 1)" font-size="10.11">5</text>
<text transform="translate(952.6 209) scale(0.935 1)" font-size="10.11">10</text>
<text transform="translate(952.6 188.1) scale(0.935 1)" font-size="10.11">15</text>
<text transform="translate(31 219) rotate(-90) scale(0.935 1)" font-size="15.09" text-anchor="middle">Tair/Tdew (F)</text>
<text transform="translate(1000 218.6) rotate(-90) scale(0.935 1)" font-size="15.09" text-anchor="middle">Tair/Tdew (C)</text>
<path d="M89 329.3 L96.3 328 L100.5 332.4 L106.7 330.7 L113 331.8 L117.1 332.8 L120.2 331.8 L124.4 334.5 L126.5 337.4 L130.6 335.5 L135.8 338.6 L137.9 332.8 L144.2 331.3 L150.4 331.8 L160.8 329.3 L171.2 327.2 L177.4 325.7 L183.7 325.1 L189.9 321.4 L198.2 318.7 L203.4 318.7 L208.6 320.1 L219 318.2 L229.4 315.1 L235.7 313.7 L244 308.9 L250.2 307.8 L258.6 303.7 L266.9 300.6 L273.1 299.9 L279.4 297 L285.6 294.3 L293.9 290.2 L301 287 L311.4 284.3 L319.7 285 L326 283.5 L332.2 279.8 L338.4 280.4 L348.8 278.7 L357.2 280.4 L367.6 280.4 L373.8 280.2 L382.1 282.5 L390.4 283.3 L398.8 280.8 L409.2 280.4 L417.5 279.3 L423.7 280.4 L434.1 280.4 L442.4 281.4 L451.8 282.5 L461.2 276.2 L467.4 275.2 L473.6 272.1 L479.9 272.5 L484 273.5 L490.3 271.4 L498.6 269.8 L509 268.3 L514 266.2 L526.5 266.7 L536.9 265.6 L545.2 267.3 L552.5 266.9 L557.7 264.6 L568.1 265.8 L580.6 264.8 L588.9 267.9 L595.1 268.9 L603.4 269.4 L611.8 272.5 L618 273.5 L624.2 275.6 L627.4 275 L632.6 278.3 L638.8 280.2 L647.1 278.3 L651.3 280.2 L655.4 279.3 L663.8 282.5 L672.1 286.6 L676.2 290.2 L680.4 295.4 L684.6 296.4 L687.7 300.1 L692.9 301.2 L697 303.7 L707.4 306.8 L713.7 312.4 L718.9 312.4 L724 313.7 L728.2 317.2 L732.3 315.7 L738.6 314.7 L742.7 316.8 L746.9 315.7 L753.1 318.7 L760.4 319.3 L764.6 321.8 L767.7 317.8 L771.4 322.8 L775 320.3 L779.1 310.3 L786.4 307.8 L789.5 305.1 L793.7 305.8 L797.2 298.5 L803 298.5 L807.2 301.2 L813.4 303.3 L815.5 302.6 L821.8 310.3 L825.9 308.3 L830.1 306.4 L835.3 312 L840.5 309.9 L846.7 307.8 L850.9 309.9 L857.1 310.5 L865.4 312 L869.6 314.1 L877.9 315.5 L884.2 318.7 L890.4 320.7 L898.7 319.7 L907 319.9 L909.1 321.4 L915.4 319.3 L925.8 320.3 L932 316.6 L934.5 317.2" stroke="#000" stroke-width="0.85" fill="none" stroke-linejoin="round" clip-path="url(#c3)"/>
<path d="M83.0 340H88.5M83.0 325H88.5M83.0 310H88.5M83.0 295H88.5M83.0 280H88.5M83.0 265H88.5" stroke="#000" stroke-width="1" fill="none"/>
<text transform="translate(78.2 343.4) scale(0.935 1)" font-size="10.11" text-anchor="end">30</text>
<text transform="translate(78.2 328.4) scale(0.935 1)" font-size="10.11" text-anchor="end">40</text>
<text transform="translate(78.2 313.4) scale(0.935 1)" font-size="10.11" text-anchor="end">50</text>
<text transform="translate(78.2 298.4) scale(0.935 1)" font-size="10.11" text-anchor="end">60</text>
<text transform="translate(78.2 283.4) scale(0.935 1)" font-size="10.11" text-anchor="end">70</text>
<text transform="translate(78.2 268.4) scale(0.935 1)" font-size="10.11" text-anchor="end">80</text>
<path d="M935.5 340h5.5M935.5 325h5.5M935.5 310h5.5M935.5 295h5.5M935.5 280h5.5M935.5 265h5.5" stroke="#000" stroke-width="1" fill="none"/>
<text transform="translate(946 343.4) scale(0.935 1)" font-size="10.11">30</text>
<text transform="translate(946 328.4) scale(0.935 1)" font-size="10.11">40</text>
<text transform="translate(946 313.4) scale(0.935 1)" font-size="10.11">50</text>
<text transform="translate(946 298.4) scale(0.935 1)" font-size="10.11">60</text>
<text transform="translate(946 283.4) scale(0.935 1)" font-size="10.11">70</text>
<text transform="translate(946 268.4) scale(0.935 1)" font-size="10.11">80</text>
<text transform="translate(31 300.7) rotate(-90) scale(0.935 1)" font-size="15.09" text-anchor="middle">RH (%)</text>
<text transform="translate(1000 300.7) rotate(-90) scale(0.935 1)" font-size="15.09" text-anchor="middle">RH (%)</text>
<path d="M89.2 346.7 L104.6 350.1 L125.4 352.6 L146.2 355.1 L167 356.3 L187.8 357.1 L208.6 357.1 L229.4 355.5 L246.1 353.4 L262.7 353.8 L279.4 354.2 L296 355.1 L312.6 353.8 L329.3 355.5 L345.9 358 L356.3 360.9 L375.1 361.7 L383.4 363.8 L404.2 365.5 L425 366.3 L445.8 368 L454.1 370.9 L462.4 371.3 L474.9 374.2 L491.5 377.1 L499.9 380 L511 381.3 L523.5 380 L540.1 381.3 L556.8 380.4 L569.2 383.4 L590 385 L606.7 383.4 L623.3 383.8 L640 384.6 L656.6 387.5 L677.4 392.9 L698.2 397.1 L710.7 400 L723.2 400.8 L744 404.6 L760.6 407.5 L773.1 410.8 L793.9 413.7 L814.7 415.8 L835.5 417.1 L848 417.9 L859.6 420.4 L868.8 418.3 L885.4 416.6 L897.9 415 L910.4 412.5 L927 409.6 L934.5 409.1" stroke="#000" stroke-width="0.85" fill="none" stroke-linejoin="round" clip-path="url(#c4)"/>
<path d="M83.0 414.3H88.5M83.0 397.6H88.5M83.0 381H88.5M83.0 364.3H88.5M83.0 347.6H88.5" stroke="#000" stroke-width="1" fill="none"/>
<text transform="translate(78.2 417.8) scale(0.935 1)" font-size="10.11" text-anchor="end">29.90</text>
<text transform="translate(78.2 401.1) scale(0.935 1)" font-size="10.11" text-anchor="end">29.95</text>
<text transform="translate(78.2 384.4) scale(0.935 1)" font-size="10.11" text-anchor="end">30.00</text>
<text transform="translate(78.2 367.7) scale(0.935 1)" font-size="10.11" text-anchor="end">30.05</text>
<text transform="translate(78.2 351.1) scale(0.935 1)" font-size="10.11" text-anchor="end">30.10</text>
<path d="M935.5 420.3h5.5M935.5 400.4h5.5M935.5 380.6h5.5M935.5 360.7h5.5" stroke="#000" stroke-width="1" fill="none"/>
<text transform="translate(952.6 423.8) scale(0.935 1)" font-size="10.11">1012</text>
<text transform="translate(952.6 403.9) scale(0.935 1)" font-size="10.11">1014</text>
<text transform="translate(952.6 384) scale(0.935 1)" font-size="10.11">1016</text>
<text transform="translate(952.6 364.1) scale(0.935 1)" font-size="10.11">1018</text>
<text transform="translate(31 384.6) rotate(-90) scale(0.935 1)" font-size="15.09" text-anchor="middle">SLP (inHg)</text>
<text transform="translate(1000 384.6) rotate(-90) scale(0.935 1)" font-size="15.09" text-anchor="middle">SLP (hPa)</text>
<path d="M88.5 466.5H935.5" stroke="#00f" stroke-width="0.9" fill="none"/>
<path d="M83.0 466.5H88.5" stroke="#000" stroke-width="1" fill="none"/>
<text transform="translate(78.2 469.9) scale(0.935 1)" font-size="10.11" text-anchor="end">0</text>
<path d="M935.5 466.5h5.5" stroke="#000" stroke-width="1" fill="none"/>
<text transform="translate(946 469.9) scale(0.935 1)" font-size="10.11">0</text>
<text transform="translate(31 467) rotate(-90) scale(0.935 1)" font-size="15.09" text-anchor="middle">pcp. (in)</text>
<text transform="translate(1000 466.2) rotate(-90) scale(0.935 1)" font-size="15.09" text-anchor="middle">pcp. (mm)</text>
<path d="M88.5 586.2 L88.5 548.8 L98.4 553.8 L108.8 559.6 L119.2 564.8 L125.4 567.3 L127.5 576.2 L129.6 570.4 L133.8 571 L140 574.1 L150.4 578.3 L160.8 581.8 L171.2 585 L181.6 585.8 L193 586.2 L193 586.2Z" fill="#242424" stroke="#242424" stroke-width="0.6" stroke-linejoin="round" clip-path="url(#c6)"/>
<path d="M569.3 586.2 L569.3 585.9 L578.6 585.6 L587.8 584.4 L597.1 582.8 L602.7 580.7 L608.2 578.5 L611 576.1 L614.7 574.8 L619.4 572 L623.1 567.4 L626.8 567 L631.4 560.3 L634.2 560 L636.1 558.7 L637.9 559.4 L641.6 556.6 L644.4 556.6 L647.2 555.7 L650.9 551.6 L654.6 547.5 L657.4 546 L661.1 545.7 L665.8 544.2 L671.3 539.5 L675 534 L677.3 535.8 L680.6 532.1 L684.3 529.3 L688 526.6 L691.7 524.3 L695.4 524.3 L699.2 519.1 L701 522.5 L703.8 520.6 L707.5 521 L710.3 516.3 L713.1 515.4 L716.8 512.6 L721.4 512.6 L725.1 519.1 L727.9 521.9 L730.3 526.6 L732.6 525.6 L735.3 526.6 L737.2 529.9 L740 530.6 L743.7 523.8 L746.5 522.5 L747 522.5 L749.8 526.2 L752.6 522.8 L755.3 520.1 L759.1 520.6 L760.9 521.9 L763.3 518.8 L765.6 521.9 L767.4 530.3 L768.9 525.6 L771.1 528.8 L773 526.6 L775.2 525.6 L776.7 530.3 L779.5 534.9 L781.3 534 L783.2 538.6 L785 540.5 L787.8 543.3 L789.3 541.4 L791.2 546 L794.3 546 L798 543.3 L800.8 540.5 L804.5 538.6 L808.2 535.8 L810.1 533 L811.9 531.8 L814.7 529.3 L816.6 532.1 L818.4 538.6 L821.2 540.5 L823.4 535.8 L825.9 530.6 L827.2 535.8 L828.6 535.8 L831.4 541.4 L833.3 546 L835.1 546 L836.4 541 L837.5 545.1 L841.6 544.7 L844.4 547 L847.2 544.2 L848.7 541 L850.9 542.3 L853.1 540.5 L854.6 533 L856.5 538.6 L858.9 534.9 L860.6 542.3 L863 547.9 L864.8 547.9 L866.7 535.8 L868.5 526.6 L870.4 522.5 L871.7 530.3 L873.2 543.3 L874.7 548.8 L876 543.3 L877.4 528.4 L878.7 520.1 L880.2 526.6 L881.5 529.3 L883.4 523.8 L884.7 526.6 L885.6 520.1 L887.1 530.3 L888.9 528.4 L890.2 534.9 L892.7 535.8 L894.5 540.5 L896.4 547.9 L898.2 550.7 L900.1 553.5 L902.9 554.4 L905.1 551.6 L907.5 555.3 L910.3 553.5 L913.1 556.2 L915.8 555.9 L918.6 555.3 L922.3 559 L926.1 561.4 L929.8 564 L933.5 567 L935.1 568.3 L935.5 568.3 L935.5 586.2Z" fill="#242424" stroke="#242424" stroke-width="0.6" stroke-linejoin="round" clip-path="url(#c6)"/>
<path d="M83.0 586.4H88.5M83.0 573.5H88.5M83.0 560.7H88.5M83.0 547.8H88.5M83.0 535H88.5M83.0 522.1H88.5" stroke="#000" stroke-width="1" fill="none"/>
<text transform="translate(78.2 589.9) scale(0.935 1)" font-size="10.11" text-anchor="end">0</text>
<text transform="translate(78.2 577) scale(0.935 1)" font-size="10.11" text-anchor="end">10</text>
<text transform="translate(78.2 564.1) scale(0.935 1)" font-size="10.11" text-anchor="end">20</text>
<text transform="translate(78.2 551.3) scale(0.935 1)" font-size="10.11" text-anchor="end">30</text>
<text transform="translate(78.2 538.4) scale(0.935 1)" font-size="10.11" text-anchor="end">40</text>
<text transform="translate(78.2 525.6) scale(0.935 1)" font-size="10.11" text-anchor="end">50</text>
<path d="M935.5 586.4h5.5M935.5 564.3h5.5M935.5 542.1h5.5M935.5 520h5.5" stroke="#000" stroke-width="1" fill="none"/>
<text transform="translate(952.2 589.9) scale(0.935 1)" font-size="10.11">0</text>
<text transform="translate(952.2 567.7) scale(0.935 1)" font-size="10.11">200</text>
<text transform="translate(952.2 545.6) scale(0.935 1)" font-size="10.11">400</text>
<text transform="translate(952.2 523.5) scale(0.935 1)" font-size="10.11">600</text>
<text transform="translate(31 549.3) rotate(-90) scale(0.935 1)" font-size="15.09" text-anchor="middle">rad(Lgly/hr)</text>
<text transform="translate(1000 549.3) rotate(-90) scale(0.935 1)" font-size="15.09" text-anchor="middle">rad (W/m^2)</text>
<text transform="translate(99.1 517.7) scale(0.935 1)" font-size="10.11" text-anchor="middle" fill="#a020f0">18</text>
<text transform="translate(653.7 517.7) scale(0.935 1)" font-size="10.11" text-anchor="middle" fill="#a020f0">1</text>
<text transform="translate(678.4 517.7) scale(0.935 1)" font-size="10.11" text-anchor="middle" fill="#a020f0">2</text>
<text transform="translate(696.4 517.7) scale(0.935 1)" font-size="10.11" text-anchor="middle" fill="#a020f0">3</text>
<text transform="translate(713.1 517.7) scale(0.935 1)" font-size="10.11" text-anchor="middle" fill="#a020f0">4</text>
<text transform="translate(728.3 517.7) scale(0.935 1)" font-size="10.11" text-anchor="middle" fill="#a020f0">5</text>
<text transform="translate(746.1 517.7) scale(0.935 1)" font-size="10.11" text-anchor="middle" fill="#a020f0">6</text>
<text transform="translate(763.7 517.7) scale(0.935 1)" font-size="10.11" text-anchor="middle" fill="#a020f0">7</text>
<text transform="translate(783.6 517.7) scale(0.935 1)" font-size="10.11" text-anchor="middle" fill="#a020f0">8</text>
<text transform="translate(807.7 517.7) scale(0.935 1)" font-size="10.11" text-anchor="middle" fill="#a020f0">9</text>
<text transform="translate(829.2 517.7) scale(0.935 1)" font-size="10.11" text-anchor="middle" fill="#a020f0">10</text>
<text transform="translate(853.7 517.7) scale(0.935 1)" font-size="10.11" text-anchor="middle" fill="#a020f0">11</text>
<text transform="translate(877.5 517.7) scale(0.935 1)" font-size="10.11" text-anchor="middle" fill="#a020f0">12</text>
<text transform="translate(898.2 517.7) scale(0.935 1)" font-size="10.11" text-anchor="middle" fill="#a020f0">13</text>
<text transform="translate(336.8 517.7) scale(0.935 1)" font-size="10.11" text-anchor="middle" fill="#a020f0" stroke="#a020f0" stroke-width="0.15">Sum of previous day</text>
<text transform="translate(337.6 528.6) scale(0.935 1)" font-size="10.11" text-anchor="middle" fill="#a020f0" stroke="#a020f0" stroke-width="0.15">&lt;--- 18.98 MJoules/m^2</text>
<path d="M653.7 509.35v1.8M678.4 509.35v1.8M696.4 509.35v1.8M713.1 509.35v1.8M728.3 509.35v1.8M746.1 509.35v1.8M763.7 509.35v1.8M783.6 509.35v1.8M807.7 509.35v1.8M829.2 509.35v1.8M853.7 509.35v1.8M877.5 509.35v1.8M898.2 509.35v1.8M98.4 509.35v1.8M336.8 509.35v1.8M88.5 509.35H935.5" stroke="#000" stroke-width="0.8" fill="none"/>
</g>
<rect x="88.5" y="13.8" width="847.0" height="79.7" fill="none" stroke="#000" stroke-width="1"/>
<rect x="88.5" y="96.5" width="847.0" height="79.80000000000001" fill="none" stroke="#000" stroke-width="1"/>
<rect x="88.5" y="179.0" width="847.0" height="79.44999999999999" fill="none" stroke="#000" stroke-width="1"/>
<rect x="88.5" y="261.5" width="847.0" height="79.89999999999998" fill="none" stroke="#000" stroke-width="1"/>
<rect x="88.5" y="344.2" width="847.0" height="79.55000000000001" fill="none" stroke="#000" stroke-width="1"/>
<rect x="88.5" y="426.55" width="847.0" height="79.89999999999998" fill="none" stroke="#000" stroke-width="1"/>
<rect x="88.5" y="509.35" width="847.0" height="79.64999999999998" fill="none" stroke="#000" stroke-width="1"/>
<path d="M88.0 589.0H936.0" stroke="#000" stroke-width="1"/>
<path d="M89.9 589.0v10.3M195.7 589.0v5.5M301.5 589.0v5.5M407.3 589.0v5.5M513.1 589.0v5.5M619 589.0v5.5M724.8 589.0v5.5M830.6 589.0v5.5" stroke="#000" stroke-width="1" fill="none"/>
<text transform="translate(195.7 608.8) scale(0.935 1)" font-size="9.74" text-anchor="middle">03z</text>
<text transform="translate(301.5 608.8) scale(0.935 1)" font-size="9.74" text-anchor="middle">06z</text>
<text transform="translate(407.3 608.8) scale(0.935 1)" font-size="9.74" text-anchor="middle">09z</text>
<text transform="translate(513.1 608.8) scale(0.935 1)" font-size="9.74" text-anchor="middle">12z</text>
<text transform="translate(619 608.8) scale(0.935 1)" font-size="9.74" text-anchor="middle">15z</text>
<text transform="translate(724.8 608.8) scale(0.935 1)" font-size="9.74" text-anchor="middle">18z</text>
<text transform="translate(830.6 608.8) scale(0.935 1)" font-size="9.74" text-anchor="middle">21z</text>
<text transform="translate(89.4 613.8) scale(0.935 1)" font-size="15.19" text-anchor="middle" fill="#f00">27Mar</text>
<text transform="translate(89.4 630.7) scale(0.935 1)" font-size="15.19" text-anchor="middle" fill="#f00">00z</text>
<text transform="translate(936 613.8) scale(0.935 1)" font-size="15.19" text-anchor="middle" fill="#f00">28Mar</text>
<text transform="translate(936.4 630.7) scale(0.935 1)" font-size="15.19" text-anchor="middle" fill="#f00">00z</text>
<text transform="translate(512.3 664.8) scale(0.935 1)" font-size="17.82" text-anchor="middle" fill="#00f" xml:space="preserve">UW Rooftop Data for 20190326  to  20190327 @ 23:57:55  (UTC)</text>
</svg>
</body></html>
